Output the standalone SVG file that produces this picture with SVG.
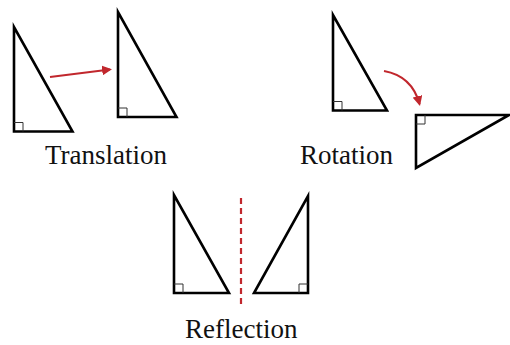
<svg xmlns="http://www.w3.org/2000/svg" width="510" height="345" viewBox="0 0 510 345">
<style>
.tri{fill:none;stroke:#000;stroke-width:2.6;stroke-linejoin:miter}
.ra{fill:none;stroke:#333;stroke-width:1}
.lbl{font-family:"Liberation Serif","Times New Roman",serif;font-size:27px;fill:#111}
.red{fill:none;stroke:#c1272d;stroke-width:2.2}
</style>
<defs>
<marker id="ah" viewBox="0 0 10 10" refX="8" refY="5" markerWidth="4.5" markerHeight="4.5" orient="auto" markerUnits="strokeWidth">
<path d="M0,0 L10,5 L0,10 z" fill="#c1272d"/>
</marker>
</defs>
<rect width="510" height="345" fill="#fff"/>
<g id="translation-original">
<path class="tri" d="M14,27 L14,131.5 L72.5,131.5 Z"/>
<path class="ra" d="M14,122.5 H23 V131.5"/>
</g>
<g id="translation-image">
<path class="tri" d="M118,12 L118,117 L176.5,117 Z"/>
<path class="ra" d="M118,108 H127 V117"/>
</g>
<g id="rotation-original">
<path class="tri" d="M333,15 L333,110.5 L387,110.5 Z"/>
<path class="ra" d="M333,101.5 H342 V110.5"/>
</g>
<g id="rotation-image">
<path class="tri" d="M416,168 L416,115 L509,115 Z"/>
<path class="ra" d="M416,124 H425 V115"/>
</g>
<g id="reflection-original">
<path class="tri" d="M174,195 L174,293 L229,293 Z"/>
<path class="ra" d="M174,284 H183 V293"/>
</g>
<g id="reflection-image">
<path class="tri" d="M308,196 L308,293 L254,293 Z"/>
<path class="ra" d="M308,284 H299 V293"/>
</g>
<g id="labels">
<text class="lbl" x="45" y="164">Translation</text>
<text class="lbl" x="300" y="164">Rotation</text>
<text class="lbl" x="185" y="338">Reflection</text>
</g>
<g id="connectors">
<path class="red" d="M50,77 L110,69.5" marker-end="url(#ah)"/>
<path class="red" d="M384,71 Q412,76 419.5,104" marker-end="url(#ah)"/>
<path class="red" d="M241,198 V306" stroke-dasharray="6,4"/>
</g>
</svg>
